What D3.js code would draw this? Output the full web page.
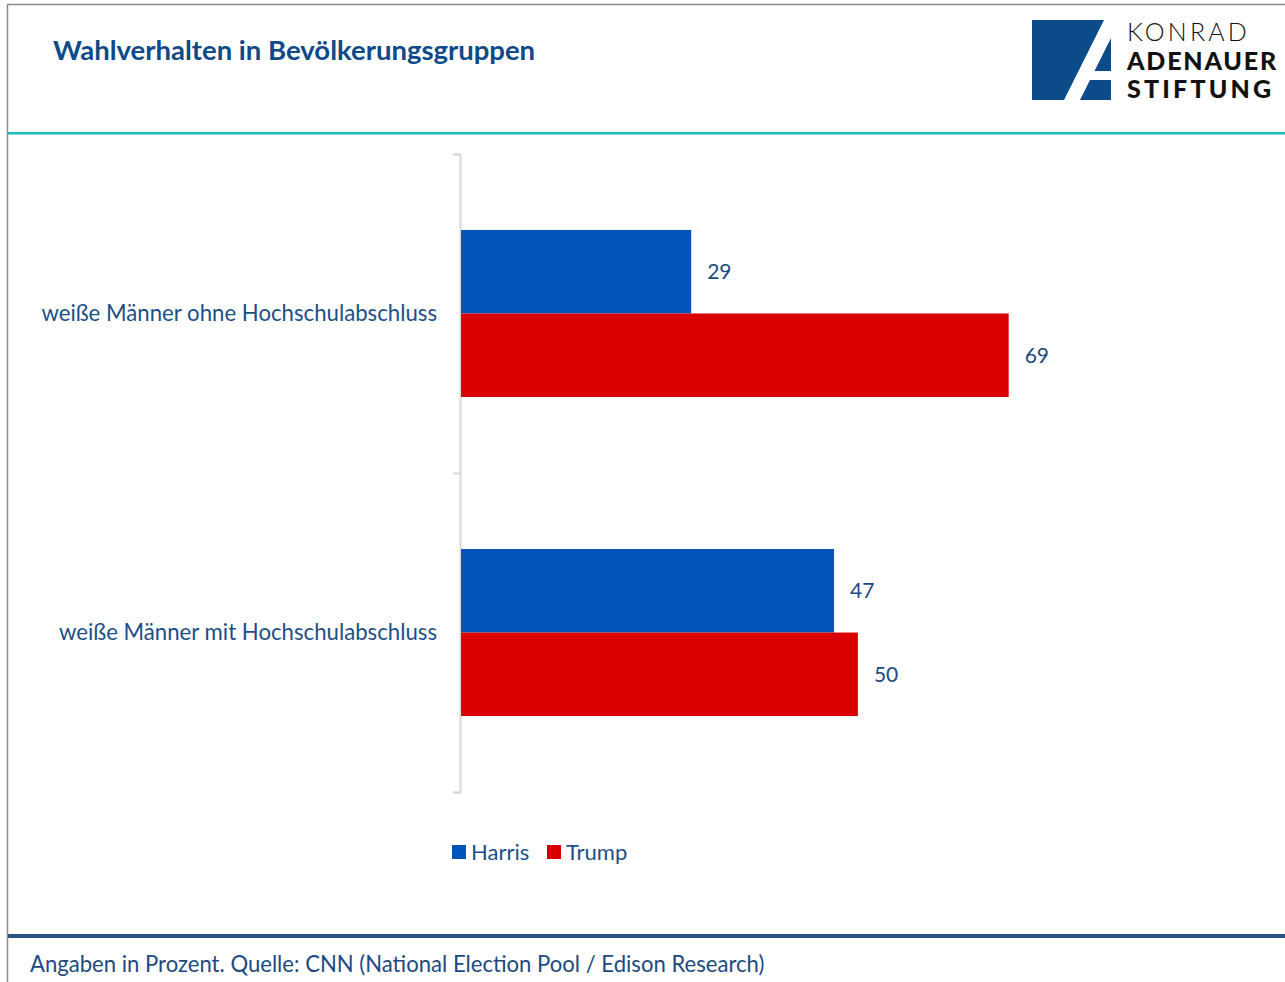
<!DOCTYPE html>
<html>
<head>
<meta charset="utf-8">
<script src="https://cdn.jsdelivr.net/npm/d3@7"></script>
<style>
  body { margin: 0; background: #fff; }
  text { font-family: Lato, "Open Sans", sans-serif; }
</style>
</head>
<body>
<svg id="chart" width="1285" height="982"></svg>
<script>
// data
var categories = ["weiße Männer ohne Hochschulabschluss", "weiße Männer mit Hochschulabschluss"];
var seriesNames = ["Harris", "Trump"];
var harrisValues = [29, 47];
var trumpValues = [69, 50];
var seriesColors = ["#0053ba", "#da0000"];

var titleText = "Wahlverhalten in Bevölkerungsgruppen";
var sourceText = "Angaben in Prozent. Quelle: CNN (National Election Pool / Edison Research)";
var logoLines = ["KONRAD", "ADENAUER", "STIFTUNG"];

var svg = d3.select("#chart");

// frame
svg.append("path")
  .attr("d", "M7.5,982V4.5H1285")
  .attr("fill", "none")
  .attr("stroke", "#8c8c8c")
  .attr("stroke-width", 1.5);

// title
svg.append("text")
  .attr("x", 53)
  .attr("y", 60)
  .attr("fill", "#0d4a87")
  .style("font-size", "27.5px")
  .style("font-weight", "bold")
  .text(titleText);

// teal line under header
svg.append("rect")
  .attr("x", 8).attr("y", 132)
  .attr("width", 1277).attr("height", 2.5)
  .attr("fill", "#22b8c2");

// logo
var logo = svg.append("g").attr("fill", "#0c4a8a");
logo.append("path").attr("d", "M1032,20H1104L1064,100H1032Z");
logo.append("path").attr("d", "M1111,38V71H1094.5Z");
logo.append("path").attr("d", "M1090,80H1111V100H1080Z");
svg.selectAll(".logo-text")
  .data(logoLines)
  .enter()
  .append("text")
  .attr("class", "logo-text")
  .attr("x", 1127)
  .attr("y", function (d, i) { return [41, 70, 98][i]; })
  .attr("fill", "#111")
  .style("font-size", "25px")
  .style("letter-spacing", function (d, i) { return ["3.2px", "1.8px", "3.2px"][i]; })
  .style("font-weight", function (d, i) { return i === 0 ? 300 : 900; })
  .text(function (d) { return d; });

// scales
var xScale = d3.scaleLinear().domain([0, 80]).range([461, 1096]);
var yScale = d3.scaleBand().domain(categories).range([154, 792])
  .paddingInner(0.4765).paddingOuter(0.238);
var ySub = d3.scaleBand().domain(seriesNames).range([0, yScale.bandwidth()]);
var yEdge = d3.scaleLinear().domain([0, categories.length]).range([154, 792]);

// axis (ticks at category boundaries)
var yAxis = d3.axisLeft(yEdge)
  .tickValues(d3.range(categories.length + 1))
  .tickSize(7)
  .tickFormat("");
var axisG = svg.append("g")
  .attr("transform", "translate(460,0)")
  .call(yAxis);
axisG.selectAll("path, line").attr("stroke", "#d9d9d9").attr("stroke-width", 2);

// bars
var rows = categories.map(function (c, i) {
  return { category: c, values: [harrisValues[i], trumpValues[i]] };
});
var groups = svg.selectAll(".group")
  .data(rows)
  .enter()
  .append("g")
  .attr("class", "group")
  .attr("transform", function (d) { return "translate(0," + yScale(d.category) + ")"; });

groups.selectAll("rect")
  .data(function (d) { return d.values.map(function (v, j) { return { name: seriesNames[j], value: v, color: seriesColors[j] }; }); })
  .enter()
  .append("rect")
  .attr("x", xScale(0))
  .attr("y", function (d) { return ySub(d.name); })
  .attr("width", function (d) { return xScale(d.value) - xScale(0); })
  .attr("height", ySub.bandwidth())
  .attr("fill", function (d) { return d.color; });

groups.selectAll(".val")
  .data(function (d) { return d.values.map(function (v, j) { return { name: seriesNames[j], value: v }; }); })
  .enter()
  .append("text")
  .attr("class", "val")
  .attr("x", function (d) { return xScale(d.value) + 16; })
  .attr("y", function (d) { return ySub(d.name) + ySub.bandwidth() / 2; })
  .attr("dy", "0.35em")
  .attr("fill", "#1c4a80")
  .style("font-size", "21px")
  .text(function (d) { return d.value; });

// category labels
svg.selectAll(".cat")
  .data(categories)
  .enter()
  .append("text")
  .attr("class", "cat")
  .attr("x", 437)
  .attr("y", function (d) { return yScale(d) + yScale.bandwidth() / 2; })
  .attr("dy", "0.35em")
  .attr("text-anchor", "end")
  .attr("fill", "#1c4f88")
  .style("font-size", "22.2px")
  .text(function (d) { return d; });

// legend
var legendX = [452, 547];
var legend = svg.selectAll(".legend")
  .data(seriesNames)
  .enter()
  .append("g")
  .attr("class", "legend")
  .attr("transform", function (d, i) { return "translate(" + legendX[i] + ",845)"; });
legend.append("rect")
  .attr("width", 14).attr("height", 14)
  .attr("fill", function (d, i) { return seriesColors[i]; });
legend.append("text")
  .attr("x", 19).attr("y", 7)
  .attr("dy", "0.35em")
  .attr("fill", "#1c4f88")
  .style("font-size", "22px")
  .text(function (d) { return d; });

// footer
svg.append("rect")
  .attr("x", 8).attr("y", 934)
  .attr("width", 1277).attr("height", 4)
  .attr("fill", "#2a5286");
svg.append("text")
  .attr("x", 30)
  .attr("y", 972)
  .attr("fill", "#1c4a80")
  .style("font-size", "22.1px")
  .text(sourceText);
</script>
</body>
</html>
